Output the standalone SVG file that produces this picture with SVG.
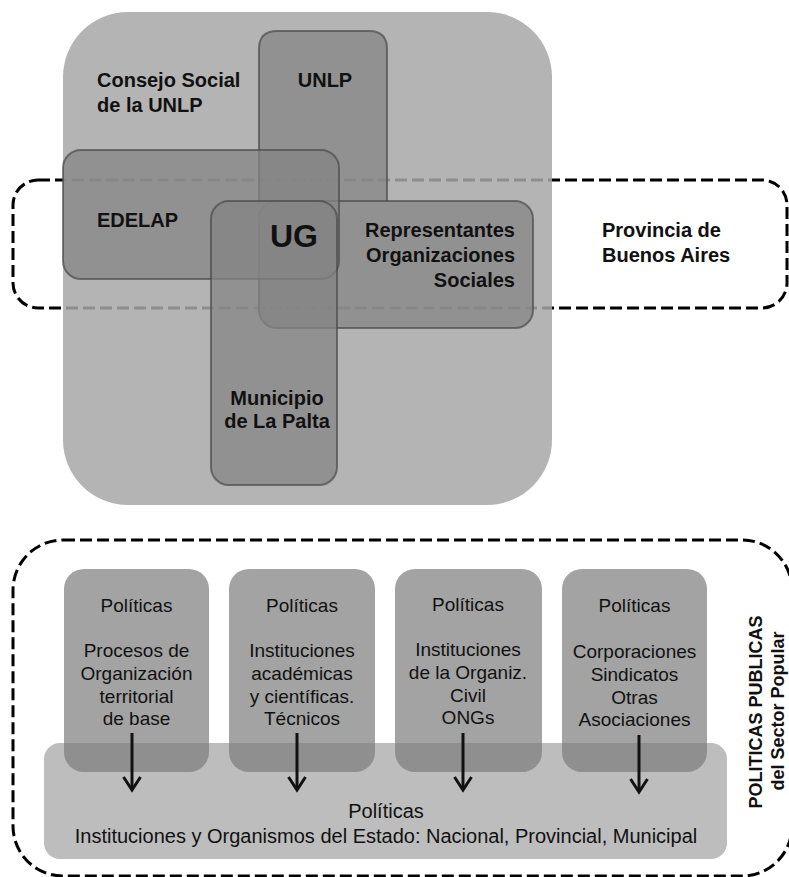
<svg xmlns="http://www.w3.org/2000/svg" width="789" height="877" viewBox="0 0 789 877">
<defs>
<style>
text{font-family:"Liberation Sans",Arial,sans-serif;fill:#111}
.b{font-weight:bold;font-size:20px}
.v{font-weight:bold;font-size:18px}
.r{font-size:19px}
.dash{fill:none;stroke:#000;stroke-width:3;stroke-dasharray:12 5}
.inner{fill:#848484;fill-opacity:0.74;stroke:#4a4a4a;stroke-opacity:0.7;stroke-width:2}
.pol{fill:#7a7a7a;fill-opacity:0.69}
.arr{fill:none;stroke:#111;stroke-width:3;marker-end:url(#ah)}
</style>
<marker id="ah" markerWidth="18" markerHeight="20" refX="14" refY="9.5" orient="auto" markerUnits="userSpaceOnUse">
<path d="M1,1 L14,9.5 L1,18" fill="none" stroke="#111" stroke-width="3"/>
</marker>
</defs>
<rect width="789" height="877" fill="#fff"/>

<g id="provincia">
<rect class="dash" x="13" y="180" width="774" height="128" rx="25"/>
<text class="b" x="602" y="237">Provincia de</text>
<text class="b" x="602" y="262">Buenos Aires</text>
</g>

<g id="consejo">
<rect x="63" y="12" width="489" height="493" rx="65" fill="#a7a7a7" fill-opacity="0.85"/>
<text class="b" x="97" y="87">Consejo Social</text>
<text class="b" x="97" y="112">de la UNLP</text>
</g>

<g id="unlp">
<path class="inner" d="M259,201 V49 Q259,31 277,31 H369 Q387,31 387,49 V201"/>
<text class="b" x="325" y="87" text-anchor="middle">UNLP</text>
</g>

<g id="representantes">
<rect class="inner" x="259" y="201" width="274" height="127" rx="18"/>
<text class="b" x="515" y="237" text-anchor="end">Representantes</text>
<text class="b" x="515" y="262" text-anchor="end">Organizaciones</text>
<text class="b" x="515" y="287" text-anchor="end">Sociales</text>
</g>

<g id="edelap">
<rect class="inner" x="63" y="150" width="276" height="129" rx="18"/>
<text class="b" x="97" y="227">EDELAP</text>
</g>

<g id="municipio">
<rect class="inner" x="211" y="201" width="126" height="284" rx="18"/>
<text class="b" x="277" y="405" text-anchor="middle">Municipio</text>
<text class="b" x="277" y="428" text-anchor="middle">de La Palta</text>
</g>

<g id="ug">
<text x="294" y="247" text-anchor="middle" font-weight="bold" font-size="32">UG</text>
</g>

<g id="politicas-publicas">
<rect class="dash" x="13" y="540" width="779" height="336" rx="50"/>
<text class="v" transform="translate(762,712) rotate(-90)" text-anchor="middle">POLITICAS PUBLICAS</text>
<text class="v" transform="translate(784,711) rotate(-90)" text-anchor="middle">del Sector Popular</text>
</g>

<g id="estado">
<rect x="44" y="743" width="683" height="116" rx="16" fill="#bdbdbd"/>
<text x="386" y="818" text-anchor="middle" font-size="20">Políticas</text>
<text x="386" y="843" text-anchor="middle" font-size="20">Instituciones y Organismos del Estado: Nacional, Provincial, Municipal</text>
</g>

<g id="pol1">
<rect class="pol" x="64" y="569" width="145" height="203" rx="20"/>
<text class="r" text-anchor="middle" x="136.5" y="612">Políticas</text>
<text class="r" text-anchor="middle" x="136.5" y="657">Procesos de</text>
<text class="r" text-anchor="middle" x="136.5" y="680">Organización</text>
<text class="r" text-anchor="middle" x="136.5" y="703">territorial</text>
<text class="r" text-anchor="middle" x="136.5" y="725">de base</text>
</g>

<g id="pol2">
<rect class="pol" x="229" y="569" width="146" height="203" rx="20"/>
<text class="r" text-anchor="middle" x="302" y="612">Políticas</text>
<text class="r" text-anchor="middle" x="302" y="657">Instituciones</text>
<text class="r" text-anchor="middle" x="302" y="680">académicas</text>
<text class="r" text-anchor="middle" x="302" y="703">y científicas.</text>
<text class="r" text-anchor="middle" x="302" y="725">Técnicos</text>
</g>

<g id="pol3">
<rect class="pol" x="395" y="569" width="147" height="203" rx="20"/>
<text class="r" text-anchor="middle" x="468" y="611">Políticas</text>
<text class="r" text-anchor="middle" x="468" y="656">Instituciones</text>
<text class="r" text-anchor="middle" x="468" y="679">de la Organiz.</text>
<text class="r" text-anchor="middle" x="468" y="702">Civil</text>
<text class="r" text-anchor="middle" x="468" y="724">ONGs</text>
</g>

<g id="pol4">
<rect class="pol" x="562" y="569" width="145" height="203" rx="20"/>
<text class="r" text-anchor="middle" x="634.5" y="612">Políticas</text>
<text class="r" text-anchor="middle" x="634.5" y="658">Corporaciones</text>
<text class="r" text-anchor="middle" x="634.5" y="681">Sindicatos</text>
<text class="r" text-anchor="middle" x="634.5" y="704">Otras</text>
<text class="r" text-anchor="middle" x="634.5" y="726">Asociaciones</text>
</g>

<g id="connectors">
<path class="arr" d="M132,733 V790"/>
<path class="arr" d="M297,733 V790"/>
<path class="arr" d="M463,733 V790"/>
<path class="arr" d="M639,735 V792"/>
</g>
</svg>
